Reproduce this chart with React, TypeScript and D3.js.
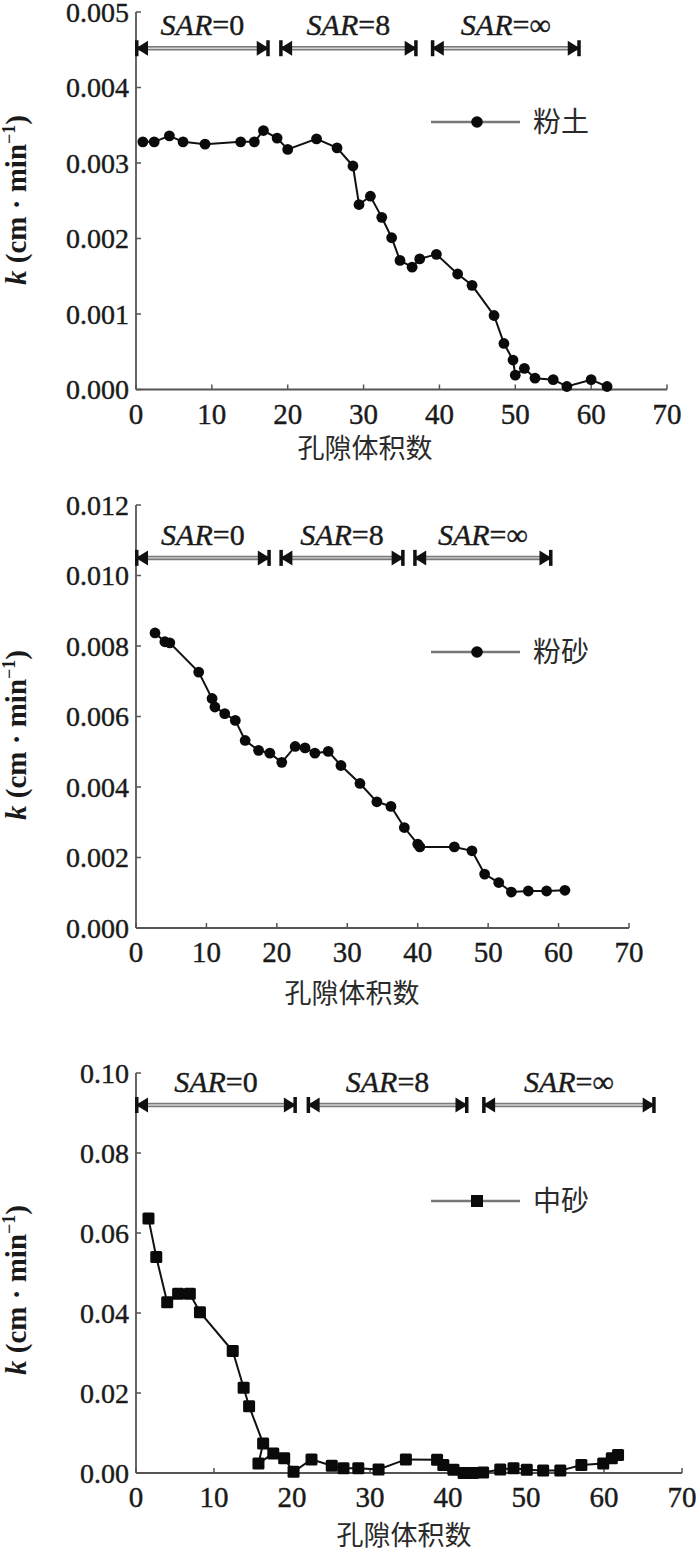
import React from 'react';
import * as d3 from 'd3';

// ---------- data ----------
const xTitle = '孔隙体积数';
const seriesNames = ['粉土', '粉砂', '中砂'];
const sarLabels = ['SAR', 'SAR', 'SAR'];
const sarValues = ['=0', '=8', '=∞'];
const xTicks = [0, 10, 20, 30, 40, 50, 60, 70];

// 粉土 (silt)
const siltX = [0.9, 2.4, 4.4, 6.2, 9.1, 13.8, 15.6, 16.8, 18.6, 20.0, 23.8, 26.5, 28.6, 29.4, 30.9, 32.4, 33.7, 34.8, 36.4, 37.4, 39.6, 42.4, 44.3, 47.2, 48.5, 49.7, 50.0, 51.2, 52.6, 55.0, 56.8, 60.0, 62.1];
const siltK = [0.00328, 0.00328, 0.00336, 0.00328, 0.00325, 0.00328, 0.00328, 0.00343, 0.00333, 0.00318, 0.00332, 0.0032, 0.00296, 0.00245, 0.00256, 0.00228, 0.00201, 0.00171, 0.00162, 0.00173, 0.00179, 0.00153, 0.00138, 0.00098, 0.00061, 0.00039, 0.00019, 0.00028, 0.00015, 0.00013, 0.00004, 0.00013, 0.00004];
const siltYTicks = [0, 0.001, 0.002, 0.003, 0.004, 0.005];
const siltSar = [[0, 17.5], [19, 37], [39, 58.5]];
const siltSarK = 0.00452;

// 粉砂 (silty sand)
const siltySandX = [2.7, 4.1, 4.8, 8.9, 10.8, 11.2, 12.6, 14.1, 15.5, 17.4, 19.0, 20.7, 22.6, 24.0, 25.4, 27.3, 29.1, 31.8, 34.2, 36.2, 38.1, 40.0, 40.3, 45.2, 47.7, 49.5, 51.5, 53.3, 55.7, 58.3, 60.9];
const siltySandK = [0.00837, 0.00812, 0.00809, 0.00726, 0.00651, 0.00627, 0.00608, 0.00589, 0.00532, 0.00504, 0.00496, 0.0047, 0.00515, 0.00511, 0.00496, 0.00501, 0.00461, 0.0041, 0.00358, 0.00345, 0.00285, 0.00238, 0.0023, 0.0023, 0.00219, 0.00153, 0.00129, 0.00102, 0.00105, 0.00105, 0.00107];
const siltySandYTicks = [0, 0.002, 0.004, 0.006, 0.008, 0.010, 0.012];
const siltySandSar = [[0, 19], [20.5, 38], [39.5, 59]];
const siltySandSarK = 0.0105;

// 中砂 (medium sand)
const mediumSandX = [1.6, 2.6, 4.0, 5.4, 6.9, 8.2, 12.4, 13.8, 14.5, 16.3, 15.7, 17.6, 19.0, 20.2, 22.5, 25.1, 26.6, 28.5, 31.1, 34.6, 38.6, 39.4, 40.7, 42.0, 43.2, 44.5, 46.7, 48.4, 50.1, 52.2, 54.4, 57.1, 59.9, 61.0, 61.8];
const mediumSandK = [0.0636, 0.054, 0.0427, 0.0448, 0.0448, 0.0402, 0.0305, 0.0213, 0.0167, 0.0074, 0.0024, 0.0049, 0.0037, 0.0003, 0.0034, 0.0018, 0.0012, 0.0012, 0.0009, 0.0034, 0.0033, 0.002, 0.0008, 0.0, 0.0, 0.0001, 0.0009, 0.0012, 0.0008, 0.0006, 0.0006, 0.002, 0.0024, 0.0037, 0.0045];
const mediumSandYTicks = [0, 0.02, 0.04, 0.06, 0.08, 0.10];
const mediumSandSar = [[0, 20.5], [22, 42.5], [44.5, 66.5]];
const mediumSandSarK = 0.092;

// ---------- layout ----------
const serif = '"Liberation Serif", "Times New Roman", serif';
const cjk = '"Noto Sans CJK SC", sans-serif';

type PanelProps = {
  left: number; right: number; top: number; bottom: number;
  yMax: number; yTicks: number[]; decimals: number;
  xs: number[]; ks: number[];
  sar: number[][]; sarK: number;
  name: string; square: boolean;
  legendY: number; titleX: number; titleY: number; yLabelY: number;
};

function Panel(p: PanelProps) {
  const x = d3.scaleLinear().domain([0, 70]).range([p.left, p.right]);
  const y = d3.scaleLinear().domain([0, p.yMax]).range([p.bottom, p.top]);
  const line = d3.line<number>().x((_, i) => x(p.xs[i])).y((_, i) => y(p.ks[i]));
  const fmt = d3.format(`.${p.decimals}f`);
  const sy = y(p.sarK);
  const ms = 12;
  return (
    <g>
      {/* axes */}
      <line x1={p.left} x2={p.left} y1={p.top} y2={p.bottom} stroke="#555" strokeWidth={1.8} />
      <line x1={p.left} x2={p.right} y1={p.bottom} y2={p.bottom} stroke="#555" strokeWidth={1.8} />
      {p.yTicks.map((t) => (
        <g key={'y' + t}>
          <line x1={p.left} x2={p.left + 5} y1={y(t)} y2={y(t)} stroke="#555" strokeWidth={1.5} />
          <text x={p.left - 7} y={y(t)} dy="0.35em" textAnchor="end" fontFamily={serif} fontSize={28} fill="#1a1a1a" stroke="#1a1a1a" strokeWidth={0.4}>{fmt(t)}</text>
        </g>
      ))}
      {xTicks.map((t) => (
        <g key={'x' + t}>
          <line x1={x(t)} x2={x(t)} y1={p.bottom} y2={p.bottom - 5} stroke="#555" strokeWidth={1.5} />
          <text x={x(t)} y={p.bottom + 34} textAnchor="middle" fontFamily={serif} fontSize={29} fill="#1a1a1a" stroke="#1a1a1a" strokeWidth={0.4}>{t}</text>
        </g>
      ))}
      <text x={p.titleX} y={p.titleY} textAnchor="middle" fontFamily={cjk} fontSize={27} fill="#2a2a2a">{xTitle}</text>
      <text transform={`translate(26,${p.yLabelY}) rotate(-90)`} textAnchor="middle" fontFamily={serif} fontSize={29} fontWeight="bold" fill="#1a1a1a">
        <tspan fontStyle="italic">k</tspan>
        <tspan> (cm · min</tspan>
        <tspan dy={-11} fontSize={18}>−1</tspan>
        <tspan dy={11}>)</tspan>
      </text>
      {/* SAR arrows */}
      {p.sar.map((s, i) => {
        const a = x(s[0]);
        const b = x(s[1]);
        return (
          <g key={'s' + i}>
            <line x1={a} x2={b} y1={sy} y2={sy} stroke="#7a7a7a" strokeWidth={4.5} />
            <line x1={a + 8} x2={b - 8} y1={sy} y2={sy} stroke="#d4d4d4" strokeWidth={1.3} />
            <path d={`M${a},${sy} L${a + 12},${sy - 7.5} L${a + 12},${sy + 7.5} Z`} fill="#111" />
            <rect x={a - 1} y={sy - 8} width={3.5} height={16} fill="#111" />
            <path d={`M${b},${sy} L${b - 12},${sy - 7.5} L${b - 12},${sy + 7.5} Z`} fill="#111" />
            <rect x={b - 2.5} y={sy - 8} width={3.5} height={16} fill="#111" />
            <text x={(a + b) / 2} y={sy - 13} textAnchor="middle" fontFamily={serif} fontSize={30} fill="#1a1a1a" stroke="#1a1a1a" strokeWidth={0.4}>
              <tspan fontStyle="italic">{sarLabels[i]}</tspan>
              <tspan>{sarValues[i]}</tspan>
            </text>
          </g>
        );
      })}
      {/* data */}
      <path d={line(p.xs) || ''} fill="none" stroke="#111" strokeWidth={2} />
      {p.xs.map((v, i) =>
        p.square ? (
          <rect key={'m' + i} x={x(v) - ms / 2} y={y(p.ks[i]) - ms / 2} width={ms} height={ms} rx={1.5} fill="#0a0a0a" />
        ) : (
          <circle key={'m' + i} cx={x(v)} cy={y(p.ks[i])} r={5.4} fill="#0a0a0a" />
        )
      )}
      {/* legend */}
      <line x1={431} x2={520} y1={p.legendY} y2={p.legendY} stroke="#777" strokeWidth={2.5} />
      {p.square ? (
        <rect x={471} y={p.legendY - 6} width={12} height={12} fill="#0a0a0a" />
      ) : (
        <circle cx={477} cy={p.legendY} r={5.8} fill="#0a0a0a" />
      )}
      <text x={533} y={p.legendY} dy="0.35em" fontFamily={cjk} fontSize={28} fill="#2a2a2a">{p.name}</text>
    </g>
  );
}

export default function App() {
  return (
    <div style={{ position: 'absolute', left: 0, top: 0 }}>
      <svg width={700} height={1556} viewBox="0 0 700 1556" style={{ display: 'block', background: '#fff' }}>
        <rect width={700} height={1556} fill="#fff" />
        <Panel left={136} right={667} top={12} bottom={389.5} yMax={0.005} yTicks={siltYTicks} decimals={3}
          xs={siltX} ks={siltK} sar={siltSar} sarK={siltSarK} name={seriesNames[0]} square={false}
          legendY={122} titleX={365} titleY={458} yLabelY={200} />
        <Panel left={136} right={629} top={505} bottom={928} yMax={0.012} yTicks={siltySandYTicks} decimals={3}
          xs={siltySandX} ks={siltySandK} sar={siltySandSar} sarK={siltySandSarK} name={seriesNames[1]} square={false}
          legendY={652} titleX={352} titleY={1003} yLabelY={735} />
        <Panel left={136} right={682} top={1073} bottom={1473} yMax={0.10} yTicks={mediumSandYTicks} decimals={2}
          xs={mediumSandX} ks={mediumSandK} sar={mediumSandSar} sarK={mediumSandSarK} name={seriesNames[2]} square={true}
          legendY={1201} titleX={404} titleY={1545} yLabelY={1290} />
      </svg>
    </div>
  );
}
